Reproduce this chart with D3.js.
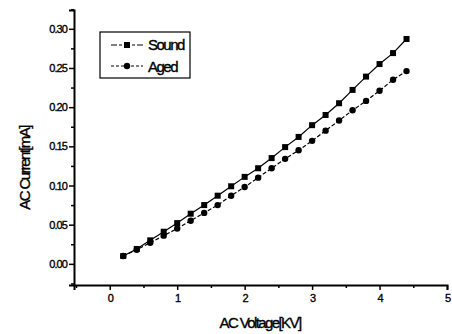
<!DOCTYPE html>
<html>
<head>
<meta charset="utf-8">
<script src="https://cdn.jsdelivr.net/npm/d3@7"></script>
<style>
body { margin: 0; background: #fff; }
svg text { font-family: "Liberation Sans", Arial, sans-serif; fill: #000; stroke: #000; stroke-width: 0.35px; }
</style>
</head>
<body>
<div id="chart"></div>
<script>
var voltage = [0.2, 0.4, 0.6, 0.8, 1.0, 1.2, 1.4, 1.6, 1.8, 2.0, 2.2, 2.4, 2.6, 2.8, 3.0, 3.2, 3.4, 3.6, 3.8, 4.0, 4.2, 4.4];
var sound = [0.010, 0.019, 0.030, 0.041, 0.052, 0.064, 0.075, 0.087, 0.099, 0.111, 0.122, 0.135, 0.149, 0.162, 0.177, 0.190, 0.205, 0.222, 0.239, 0.255, 0.269, 0.287];
var aged = [0.010, 0.018, 0.027, 0.036, 0.045, 0.055, 0.065, 0.075, 0.087, 0.098, 0.110, 0.122, 0.134, 0.145, 0.157, 0.170, 0.183, 0.196, 0.208, 0.221, 0.235, 0.246];
var xTicks = [0, 1, 2, 3, 4, 5];
var yTicks = [0.00, 0.05, 0.10, 0.15, 0.20, 0.25, 0.30];

var width = 452, height = 334;
var svg = d3.select("#chart").append("svg")
	.attr("width", width).attr("height", height);

var x = d3.scaleLinear().domain([-0.53, 5]).range([74, 447]);
var y = d3.scaleLinear().domain([-0.027, 0.324]).range([285, 10]);

// minor ticks
var xMinor = d3.range(-0.5, 5.01, 0.5).filter(function (d) { return Math.abs(d - Math.round(d)) > 0.01; });
var yMinor = d3.range(-0.025, 0.33, 0.05);

svg.append("g").attr("transform", "translate(0,285)")
	.call(d3.axisBottom(x).tickValues(xTicks).tickSize(5).tickPadding(4).tickFormat(d3.format("d")));
svg.append("g").attr("transform", "translate(0,285)")
	.call(d3.axisBottom(x).tickValues(xMinor).tickSize(3).tickFormat(""))
	.select(".domain").remove();

svg.append("g").attr("transform", "translate(74,0)")
	.call(d3.axisLeft(y).tickValues(yTicks).tickSize(5).tickPadding(2).tickFormat(d3.format(".2f")));
svg.append("g").attr("transform", "translate(74,0)")
	.call(d3.axisLeft(y).tickValues(yMinor).tickSize(3).tickFormat(""))
	.select(".domain").remove();

svg.selectAll(".domain").attr("stroke", "#000").attr("stroke-width", 2);
svg.selectAll(".tick line").attr("stroke", "#000").attr("stroke-width", 1.5);
svg.selectAll(".tick text")
	.style("font-size", "11px").style("letter-spacing", "-0.9px")
	.style("font-family", "'Liberation Sans', Arial, sans-serif");

// axis titles
svg.append("text").attr("x", 260).attr("y", 328)
	.attr("text-anchor", "middle")
	.style("font-size", "15px").style("letter-spacing", "-1.6px")
	.text("AC Voltage[KV]");
svg.append("text")
	.attr("transform", "translate(30,168) rotate(-90)")
	.attr("text-anchor", "middle")
	.style("font-size", "15px").style("letter-spacing", "-1.6px")
	.text("AC Current[mA]");

var line = d3.line()
	.x(function (d) { return x(d[0]); })
	.y(function (d) { return y(d[1]); });

var soundPts = voltage.map(function (v, i) { return [v, sound[i]]; });
var agedPts = voltage.map(function (v, i) { return [v, aged[i]]; });

svg.append("path").datum(soundPts)
	.attr("d", line).attr("fill", "none").attr("stroke", "#000").attr("stroke-width", 1.2);
svg.append("path").datum(agedPts)
	.attr("d", line).attr("fill", "none").attr("stroke", "#000").attr("stroke-width", 1.2)
	.attr("stroke-dasharray", "4,2");

svg.selectAll("rect.sound").data(soundPts).enter().append("rect")
	.attr("class", "sound")
	.attr("x", function (d) { return x(d[0]) - 3; })
	.attr("y", function (d) { return y(d[1]) - 3; })
	.attr("width", 6).attr("height", 6).attr("fill", "#000");
svg.selectAll("circle.aged").data(agedPts).enter().append("circle")
	.attr("class", "aged")
	.attr("cx", function (d) { return x(d[0]); })
	.attr("cy", function (d) { return y(d[1]); })
	.attr("r", 3.2).attr("fill", "#000");

// legend
var lg = svg.append("g");
lg.append("rect").attr("x", 100).attr("y", 32).attr("width", 90).attr("height", 46)
	.attr("fill", "#fff").attr("stroke", "#000").attr("stroke-width", 1.2);
lg.append("line").attr("x1", 111).attr("x2", 143).attr("y1", 45).attr("y2", 45)
	.attr("stroke", "#000").attr("stroke-width", 1).attr("stroke-dasharray", "6,2,3,2");
lg.append("rect").attr("x", 124).attr("y", 42).attr("width", 6).attr("height", 6).attr("fill", "#000");
lg.append("line").attr("x1", 111).attr("x2", 143).attr("y1", 66).attr("y2", 66)
	.attr("stroke", "#000").attr("stroke-width", 1).attr("stroke-dasharray", "3,2");
lg.append("circle").attr("cx", 127).attr("cy", 66).attr("r", 3.2).attr("fill", "#000");
lg.append("text").attr("x", 148).attr("y", 50)
	.style("font-size", "15px").style("letter-spacing", "-1.5px").text("Sound");
lg.append("text").attr("x", 148).attr("y", 72)
	.style("font-size", "15px").style("letter-spacing", "-1.5px").text("Aged");
</script>
</body>
</html>
